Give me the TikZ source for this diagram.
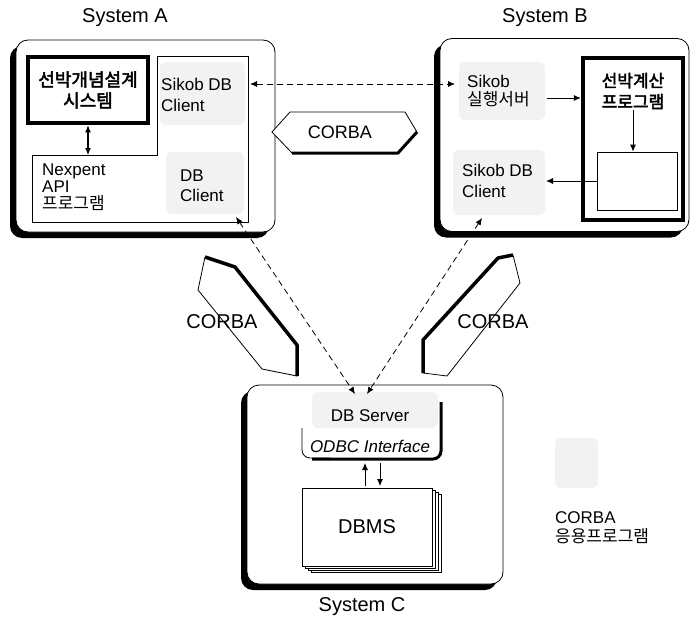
\documentclass[tikz,border=0pt]{standalone}
\usepackage{fontspec}
\setmainfont{Liberation Sans}
\newfontfamily\kr[AutoFakeBold=2.5]{Noto Sans CJK KR}
\usepackage{tikz}
\usetikzlibrary{shapes,arrows,arrows.meta,positioning,shadows}

\begin{document}
\begin{tikzpicture}[x=1pt,y=-1pt,>={Latex[length=7pt,width=6pt]},
    sysbox/.style={draw,line width=0.8pt,fill=white,rounded corners=12pt,inner sep=0pt,
      drop shadow={shadow xshift=-6pt,shadow yshift=-6pt,fill=black,opacity=1}},
    progbox/.style={draw,line width=4.5pt,outer sep=2.25pt,inner sep=0pt},
    title/.style={font=\fontsize{20}{24}\selectfont},
    lbl/.style={font=\fontsize{17}{21}\selectfont,align=left,anchor=west,inner sep=0pt},
    stip/.style={fill=black!5,rounded corners=6pt},
    dashlink/.style={<->,line width=0.8pt,dash pattern=on 6pt off 4pt},
    link/.style={->,line width=0.8pt}]
    \useasboundingbox (0,0) rectangle (691,626);

    % System A
    \node[title] (titleA) at (125,18) {System A};
    \node[sysbox,minimum width=259pt,minimum height=192pt] (sysA) at (145.5,136) {};
    \fill[stip] (160,62) rectangle (245,125);
    \fill[stip] (166,152) rectangle (244,214);
    \draw[line width=0.8pt] (157,56) -- (248,56) -- (248,222) -- (32,222) -- (32,155) -- (157,155) -- cycle;
    \node[progbox,minimum width=120pt,minimum height=66pt,align=center,
          font=\fontsize{18}{21}\selectfont\kr\bfseries] (concept) at (88,90) {선박개념설계\\시스템};
    \coordinate (apiTop) at (88,155);
    \draw[<->,line width=1.2pt] (concept.south) -- (apiTop);
    \node[lbl] (sikobA) at (161,95) {Sikob DB\\Client};
    \node[lbl,font=\fontsize{17}{17}\selectfont] (nexpent) at (42,187) {Nexpent\\API\\{\kr 프로그램}};
    \node[lbl,font=\fontsize{17}{20}\selectfont] (dbcA) at (180,186) {DB\\Client};

    % System B
    \node[title] (titleB) at (545,18) {System B};
    \node[sysbox,minimum width=249pt,minimum height=193pt] (sysB) at (564.5,135) {};
    \fill[stip] (459,62) rectangle (545,120);
    \fill[stip] (453,150) rectangle (545,215);
    \node[progbox,minimum width=100pt,minimum height=162pt] (calcProg) at (633,139) {};
    \node[align=center,inner sep=1pt,font=\fontsize{17}{21}\selectfont\kr\bfseries] (calcTxt) at (633,91) {선박계산\\프로그램};
    \node[draw,line width=0.8pt,minimum width=80pt,minimum height=58pt] (resBox) at (637.5,181) {};
    \draw[link] (calcTxt.south) -- (calcTxt.south |- resBox.north);
    \node[lbl,font=\fontsize{17}{18}\selectfont] (sikobSrv) at (467,91) {Sikob\\{\kr 실행서버}};
    \coordinate (srvOut) at (547,98);
    \draw[link] (srvOut) -- (srvOut -| calcProg.west);
    \node[lbl] (sikobB) at (462,181) {Sikob DB\\Client};
    \coordinate (dbcIn) at (546,181);
    \draw[link] (resBox.west) -- (dbcIn);

    % CORBA link between A and B
    \draw[line width=0.8pt,fill=white] (272,132) -- (290,112) -- (405,112) -- (417,132) -- (398,153) -- (292,153) -- cycle;
    \draw[line width=3pt,line join=round] (292,153) -- (398,153) -- (417,132);
    \node[font=\fontsize{18}{18}\selectfont] (corbaAB) at (340,132) {CORBA};
    \coordinate (sikA) at (250,84);
    \coordinate (sikB) at (455,84);
    \draw[dashlink] (sikA) -- (sikB);

    % CORBA bands down to System C
    \draw[line width=0.8pt,line join=round] (205,257) -- (198,290) -- (262,369) -- (297,376);
    \draw[line width=3.5pt,line join=round] (205,257) -- (235,267) -- (297,345) -- (297,376);
    \node[font=\fontsize{20}{20}\selectfont] (corbaAC) at (222,322) {CORBA};
    \draw[line width=0.8pt,line join=round] (513,255) -- (520,283) -- (447,376) -- (423,373);
    \draw[line width=3.5pt,line join=round] (513,255) -- (498,258) -- (423,340) -- (423,373);
    \node[font=\fontsize{20}{20}\selectfont] (corbaBC) at (493,322) {CORBA};

    % System C
    \node[title] (titleC) at (362,607) {System C};
    \node[sysbox,minimum width=256pt,minimum height=199pt] (sysC) at (375,484.5) {};
    \fill[stip] (312,392) rectangle (438,428);
    \draw[line width=0.8pt,rounded corners=8pt] (302,428) -- (302,458) -- (330,458);
    \draw[line width=3pt,rounded corners=8pt] (312,459) -- (441,459) -- (441,402);
    \node[font=\fontsize{17}{17}\selectfont] (dbSrv) at (370,416) {DB Server};
    \node[font=\fontsize{17}{17}\selectfont\itshape] (odbc) at (370,446) {ODBC Interface};
    \node[draw,fill=white,line width=0.8pt,minimum width=130pt,minimum height=78pt,
          copy shadow={shadow xshift=9pt,shadow yshift=-6pt},
          copy shadow={shadow xshift=6pt,shadow yshift=-4pt},
          copy shadow={shadow xshift=3pt,shadow yshift=-2pt},
          font=\fontsize{20}{20}\selectfont] (dbms) at (367,527) {DBMS};
    \coordinate (upTop) at (365,463);
    \coordinate (upBot) at (365,486);
    \coordinate (dnTop) at (380,463);
    \coordinate (dnBot) at (380,486);
    \draw[link] (upBot) -- (upTop);
    \draw[link] (dnTop) -- (dnBot);

    % database links
    \coordinate (acEnd) at (236,217);
    \coordinate (caEnd) at (355,394);
    \coordinate (bcEnd) at (482,218);
    \coordinate (cbEnd) at (367,394);
    \draw[dashlink] (acEnd) -- (caEnd);
    \draw[dashlink] (bcEnd) -- (cbEnd);

    % legend
    \fill[stip] (555,438) rectangle (598,488);
    \node[lbl,font=\fontsize{17}{19}\selectfont] (legend) at (555,528) {CORBA\\{\kr 응용프로그램}};
\end{tikzpicture}
\end{document}
